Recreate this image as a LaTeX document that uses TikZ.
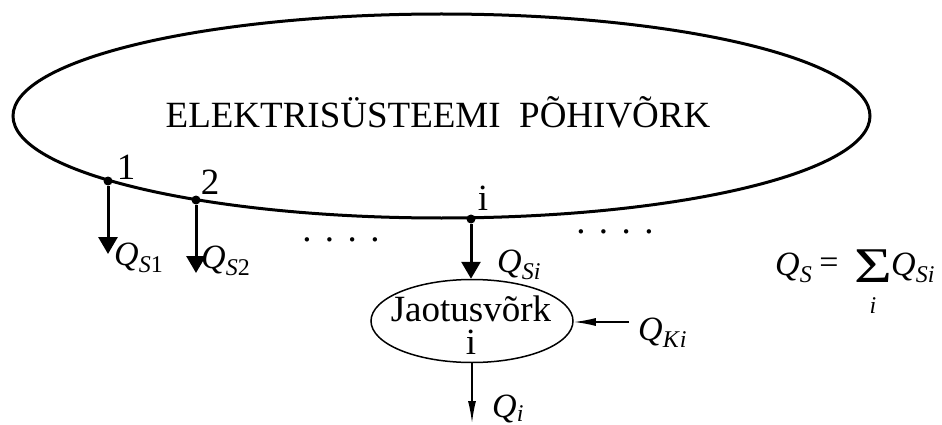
\documentclass[tikz,border=0pt]{standalone}
\usepackage{fontspec}
\setmainfont{Liberation Serif}
\usetikzlibrary{shapes.geometric,arrows.meta}
\newcommand\Qs[2]{\textit{Q}\raisebox{-7pt}{\fontsize{24}{24}\selectfont\textit{#1}#2}}
\begin{document}
\begin{tikzpicture}[x=1pt,y=-1pt,
  big/.style={font=\fontsize{37}{40}\selectfont, inner sep=0},
  qlab/.style={font=\fontsize{34}{36}\selectfont, inner sep=0, anchor=base west},
  bus/.style={circle, fill=black, inner sep=0, minimum size=9pt},
  thickarr/.style={line width=3pt, -{Triangle[length=17pt,width=19pt]}},
  thinarr/.style={line width=1.5pt, -{Latex[length=22pt,width=8pt]}}]
\useasboundingbox (0,0) rectangle (942,425);
\node[draw, ellipse, line width=3pt, minimum width=857pt, minimum height=204pt, inner sep=0] (main) at (441.5,116) {};
\node[big] (title) at (438,112.5) {ELEKTRISÜSTEEMI\ \ PÕHIVÕRK};
\node[bus] (n1) at (108,181) {};
\node[bus] (n2) at (196,200) {};
\node[bus] (ni) at (471,219) {};
\node[big] (l1) at (126,167) {1};
\node[big] (l2) at (210,182) {2};
\node[big] (li) at (483,198) {i};
\coordinate (t1) at (108,254);
\coordinate (t2) at (196,273);
\draw[thickarr] (n1) -- (t1);
\draw[thickarr] (n2) -- (t2);
\node[qlab] (qs1) at (114,265) {\Qs{S}{1}};
\node[qlab] (qs2) at (201,268) {\Qs{S}{2}};
\node[big] (dots1) at (341,240) {.\hspace{13.5pt}.\hspace{13.5pt}.\hspace{13.5pt}.};
\node[big] (dots2) at (615,232) {.\hspace{13.5pt}.\hspace{13.5pt}.\hspace{13.5pt}.};
\node[draw, ellipse, line width=1.5pt, minimum width=202pt, minimum height=83pt, inner sep=0] (jv) at (472,321) {};
\node[big, anchor=base, text depth=0pt] (jvt) at (471,321) {Jaotusvõrk};
\node[big, anchor=base, text depth=0pt] (jvi) at (471,354) {i};
\draw[thickarr] (ni) -- (ni |- jv.north);
\node[qlab] (qsi) at (497,272) {\Qs{S}{\textit{i}}};
\node[qlab] (qki) at (638,340) {\Qs{K}{\textit{i}}};
\coordinate (kstart) at (629,322);
\draw[thinarr] (kstart) -- (jv.east |- kstart);
\coordinate (qiend) at (472,423);
\draw[thinarr] (jv.south) -- (qiend);
\node[qlab] (qi) at (492,417) {\textit{Q}\raisebox{-4pt}{\fontsize{24}{24}\selectfont\textit{i}}};
\node[qlab] (qs) at (775,275) {\Qs{S}{}};
\node[font=\fontsize{34}{36}\selectfont, inner sep=0] (eq) at (829,266) {=};
\node[font=\fontsize{50}{50}\selectfont, inner sep=0] (sig) at (873,266.5) {\scalebox{1.3}[1]{Σ}};
\node[font=\fontsize{24}{24}\selectfont\itshape, inner sep=0] (sigi) at (873,306) {i};
\node[qlab] (qsi2) at (891,275) {\Qs{S}{\textit{i}}};
\end{tikzpicture}
\end{document}
